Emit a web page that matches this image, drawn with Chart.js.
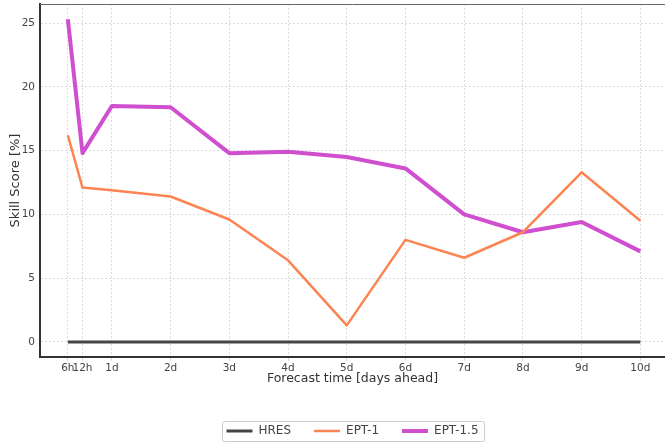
<!DOCTYPE html>
<html>
<head>
<meta charset="utf-8">
<script src="https://cdn.jsdelivr.net/npm/chart.js@4/dist/chart.umd.min.js"></script>
<style>
  html, body { margin: 0; padding: 0; background: #fff; }
  #wrap { width: 665px; height: 442px; }
</style>
</head>
<body>
<div id="wrap"><canvas id="chart" width="665" height="442"></canvas></div>
<script>
// lead times in days, with their tick labels
const leadDays = [0.25, 0.5, 1, 2, 3, 4, 5, 6, 7, 8, 9, 10]
const leadLabels = ["6h", "12h", "1d", "2d", "3d", "4d", "5d", "6d", "7d", "8d", "9d", "10d"]
const yTicks = [0, 5, 10, 15, 20, 25]

// skill scores [%]
const hres = [0, 0, 0, 0, 0, 0, 0, 0, 0, 0, 0, 0]
const ept1 = [16.2, 12.1, 11.9, 11.4, 9.6, 6.4, 1.3, 8.0, 6.6, 8.6, 13.3, 9.5]
const ept15 = [25.3, 14.8, 18.5, 18.4, 14.8, 14.9, 14.5, 13.6, 10.0, 8.6, 9.4, 7.1]

const toPoints = vals => vals.map((v, i) => ({x: leadDays[i], y: v}))

const FONT = "'DejaVu Sans', sans-serif"
const GRID = "#dcdcdc"
const PAD_BOTTOM = -5

// legend centred under the plot area, frame line along the top, box around the legend
const framePlugin = {
	id: "frame",
	afterLayout(chart) {
		const a = chart.chartArea
		chart.legend.left = a.left
		chart.legend.right = a.right
		chart.legend.width = a.right - a.left
	},
	afterDraw(chart) {
		const ctx = chart.ctx
		const a = chart.chartArea
		ctx.save()
		ctx.strokeStyle = "#666"
		ctx.lineWidth = 1
		ctx.beginPath()
		ctx.moveTo(a.left, a.top + 0.5)
		ctx.lineTo(a.right, a.top + 0.5)
		ctx.stroke()

		const boxes = chart.legend.legendHitBoxes
		if (boxes && boxes.length) {
			const l = Math.min(...boxes.map(b => b.left)) - 4
			const r = Math.max(...boxes.map(b => b.left + b.width)) + 6
			const t = Math.min(...boxes.map(b => b.top)) - 4
			const btm = Math.max(...boxes.map(b => b.top + b.height)) + 4
			ctx.strokeStyle = "#cccccc"
			ctx.lineWidth = 1
			ctx.beginPath()
			ctx.roundRect(Math.round(l) + 0.5, Math.round(t) + 0.5, r - l, btm - t, 2)
			ctx.stroke()
		}
		ctx.restore()
	}
}

new Chart(document.getElementById("chart"), {
	type: "line",
	data: {
		datasets: [
			{label: "HRES", data: toPoints(hres), borderColor: "#444444", backgroundColor: "#444444", borderWidth: 3},
			{label: "EPT-1", data: toPoints(ept1), borderColor: "#fc8452", backgroundColor: "#fc8452", borderWidth: 2.5},
			{label: "EPT-1.5", data: toPoints(ept15), borderColor: "#cf4fcf", backgroundColor: "#cf4fcf", borderWidth: 4}
		]
	},
	options: {
		responsive: false,
		animation: false,
		devicePixelRatio: 1,
		layout: {padding: {left: 0, right: 0, top: 4, bottom: PAD_BOTTOM}},
		elements: {
			point: {radius: 0},
			line: {tension: 0, borderCapStyle: "butt", borderJoinStyle: "round"}
		},
		plugins: {
			tooltip: {enabled: false},
			legend: {
				position: "bottom",
				labels: {
					usePointStyle: true,
					pointStyle: "line",
					pointStyleWidth: 26,
					boxHeight: 12,
					padding: 23,
					color: "#444",
					font: {family: FONT, size: 12}
				}
			}
		},
		scales: {
			x: {
				type: "linear",
				min: -0.224,
				max: 10.42,
				afterBuildTicks: s => { s.ticks = leadDays.map(v => ({value: v})) },
				afterFit: s => {
					s.height = 442 - 357 - s.chart.legend.height - PAD_BOTTOM
					s.paddingLeft = 0
					s.paddingRight = 0
				},
				ticks: {
					autoSkip: false,
					maxRotation: 0,
					padding: 1,
					color: "#444",
					font: {family: FONT, size: 10.5},
					callback: v => leadLabels[leadDays.indexOf(v)]
				},
				grid: {color: GRID, tickColor: GRID, tickLength: 4, lineWidth: 1},
				border: {color: "#333", width: 2, dash: [2, 2]},
				title: {
					display: true,
					text: "Forecast time [days ahead]",
					color: "#333",
					font: {family: FONT, size: 12.5},
					padding: {top: 0, bottom: 16}
				}
			},
			y: {
				min: -1.18,
				max: 26.49,
				afterBuildTicks: s => { s.ticks = yTicks.map(v => ({value: v})) },
				afterFit: s => {
					s.width = 40
					s.paddingTop = 0
					s.paddingBottom = 0
				},
				ticks: {
					padding: 5,
					color: "#444",
					font: {family: FONT, size: 10.5}
				},
				grid: {color: GRID, tickLength: 0, lineWidth: 1},
				border: {color: "#333", width: 2, dash: [2, 2]},
				title: {
					display: true,
					text: "Skill Score [%]",
					color: "#333",
					font: {family: FONT, size: 13},
					padding: {top: 8, bottom: 0}
				}
			}
		}
	},
	plugins: [framePlugin]
})
</script>
</body>
</html>
